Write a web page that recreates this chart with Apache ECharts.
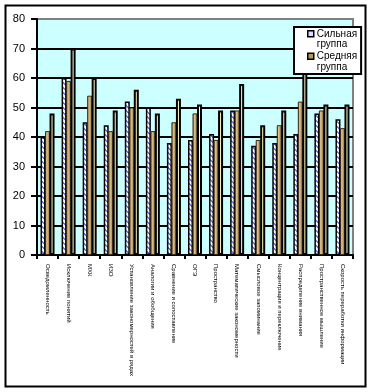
<!DOCTYPE html>
<html>
<head>
<meta charset="utf-8">
<script src="https://cdn.jsdelivr.net/npm/echarts@6/dist/echarts.min.js"></script>
<style>
html,body{margin:0;padding:0;background:#fff;}
#c{width:374px;height:392px;}
</style>
</head>
<body>
<div id="c"></div>
<script>
const categories = [
  "Осведомленность", "Исключение понятий", "МХК", "ИЗО",
  "Установление закономерностей в рядах", "Аналогии и обобщения",
  "Сравнение и сопоставление", "ОГЭ", "Пространство",
  "Математические закономерности", "Смысловое запоминание",
  "Концентрация и переключение", "Распределение внимания",
  "Пространственное мышление", "Скорость переработки информации"
];
const strongGroup = [40, 60, 45, 44, 52, 50, 38, 39, 41, 49, 37, 38, 41, 48, 46];
const middleGroup = [42, 59, 54, 42, 50, 42, 45, 48, 39, 49, 39, 44, 52, 49, 43];
const thirdGroup  = [48, 70, 60, 49, 56, 48, 53, 51, 49, 58, 44, 49, 66, 51, 51];
const yTicks = [0, 10, 20, 30, 40, 50, 60, 70, 80];
const seriesNames = ["Сильная группа", "Средняя группа", "Слабая группа"];

// hatch pattern for the first series
const pa = document.createElement('canvas');
pa.width = 5; pa.height = 5;
const px = pa.getContext('2d');
px.fillStyle = '#ffffff'; px.fillRect(0, 0, 5, 5);
px.fillStyle = '#7878e8';
for (let i = 0; i < 5; i++) { px.fillRect(i, i, 1, 1); px.fillRect((i + 1) % 5, i, 1, 1); }

const wood = {
  type: 'linear', x: 0, y: 0, x2: 1, y2: 0,
  colorStops: [
    {offset: 0, color: '#7d5c30'},
    {offset: 0.35, color: '#d9c38f'},
    {offset: 0.65, color: '#bfa06a'},
    {offset: 1, color: '#6f5028'}
  ]
};

const chart = echarts.init(document.getElementById('c'), null, {renderer: 'canvas'});
const legendIcon = 'path://M0,0L0,0M0,2L6,2L6,8L0,8ZM0,21L0,21';
chart.setOption({
  animation: false,
  backgroundColor: '#ffffff',
  textStyle: {fontFamily: 'Liberation Sans, Arial, sans-serif'},
  grid: {
    left: 37, right: 21, top: 19, bottom: 137,
    show: true, backgroundColor: '#ccffff', borderColor: '#808080', borderWidth: 2
  },
  legend: {
    orient: 'vertical',
    left: 294, top: 27,
    padding: [1, 4, 1, 13],
    itemGap: 0,
    itemWidth: 6, itemHeight: 21,
    backgroundColor: '#ffffff',
    borderColor: '#000000', borderWidth: 2, borderRadius: 0,
    selectedMode: false,
    formatter: n => n.replace(' ', '\n'),
    textStyle: {fontSize: 10, lineHeight: 10.5, color: '#000', fontFamily: 'Liberation Sans, Arial, sans-serif', padding: [0,0,0,-2]},
    data: [
      {name: seriesNames[0], icon: legendIcon, itemStyle: {color: '#d8dcff', borderColor: '#000', borderWidth: 1.5}},
      {name: seriesNames[1], icon: legendIcon, itemStyle: {color: '#b8975f', borderColor: '#000', borderWidth: 1.5}}
    ]
  },
  xAxis: {
    type: 'category',
    data: categories,
    axisLine: {lineStyle: {color: '#000', width: 2}},
    axisTick: {show: true, length: 4, lineStyle: {color: '#000', width: 2}},
    axisLabel: {rotate: -90, fontSize: 6, color: '#000', margin: 9, interval: 0,
      fontFamily: 'Liberation Sans, Arial, sans-serif'},
    splitLine: {show: false}
  },
  yAxis: {
    type: 'value',
    min: 0, max: 80, interval: 10,
    axisLine: {show: true, lineStyle: {color: '#000', width: 2}},
    axisTick: {show: true, length: 6, lineStyle: {color: '#000', width: 2}},
    axisLabel: {fontSize: 11, color: '#000', margin: 12,
      formatter: v => yTicks.indexOf(v) >= 0 ? String(v) : ''},
    splitLine: {show: true, lineStyle: {width: 2,
      color: ['#000','#000','#000','#000','#000','#000','#000','#000','#808080']}}
  },
  series: [
    {name: seriesNames[0], type: 'bar', data: strongGroup, barWidth: 5, barGap: '-10%',
     itemStyle: {color: {image: pa, repeat: 'repeat'}, borderColor: '#000', borderWidth: 1.5}},
    {name: seriesNames[1], type: 'bar', data: middleGroup, barWidth: 5, barGap: '-10%',
     itemStyle: {color: wood, borderColor: '#3a2a12', borderWidth: 1}},
    {name: seriesNames[2], type: 'bar', data: thirdGroup, barWidth: 5, barGap: '-10%',
     itemStyle: {color: '#ffffcc', borderColor: '#000', borderWidth: 2}}
  ],
  graphic: [
    {type: 'rect', silent: true, z: 100,
     shape: {x: 5.5, y: 5.5, width: 360, height: 381},
     style: {fill: 'none', stroke: '#000', lineWidth: 2}}
  ]
});
</script>
</body>
</html>
